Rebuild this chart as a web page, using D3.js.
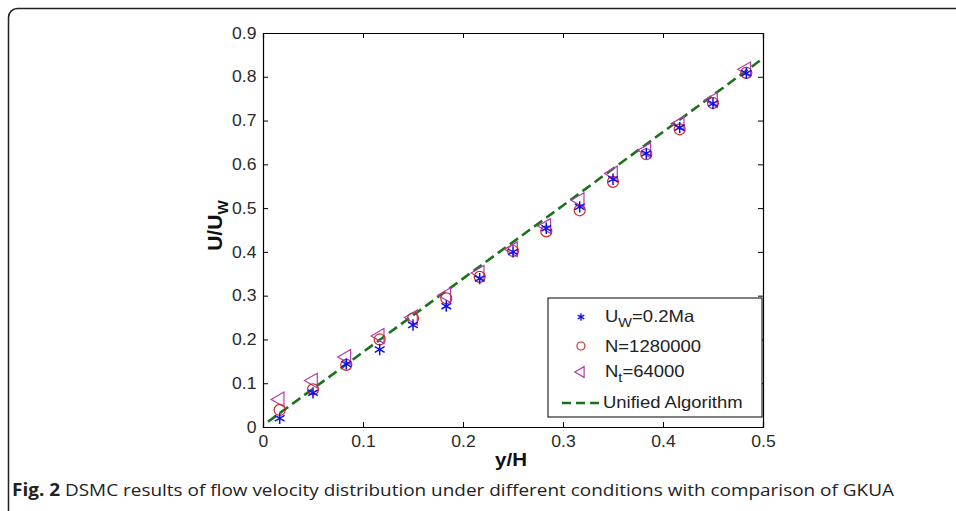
<!DOCTYPE html>
<html>
<head>
<meta charset="utf-8">
<script src="https://cdn.jsdelivr.net/npm/d3@7"></script>
<style>
  body { margin: 0; background: #fff; }
  svg { display: block; }
  .tick text { font-family: "Liberation Sans", Arial, sans-serif; font-size: 16px; fill: #2a2a2a; }
  .domain { stroke: #000; }
  .tick line { stroke: #000; }
</style>
</head>
<body>
<div id="wrap"></div>
<script>
// y/H positions of the sampled cells
var yH = [0.0167, 0.05, 0.0833, 0.1167, 0.15, 0.1833, 0.2167, 0.25, 0.2833, 0.3167, 0.35, 0.3833, 0.4167, 0.45, 0.4833];
// U/Uw for each case
var uwMa = [0.020, 0.078, 0.144, 0.177, 0.233, 0.276, 0.339, 0.400, 0.454, 0.503, 0.566, 0.625, 0.684, 0.739, 0.808];
var n1280000 = [0.039, 0.086, 0.142, 0.200, 0.248, 0.294, 0.343, 0.402, 0.447, 0.495, 0.560, 0.623, 0.680, 0.740, 0.809];
var nt64000 = [0.063, 0.106, 0.160, 0.208, 0.250, 0.301, 0.352, 0.406, 0.459, 0.518, 0.579, 0.632, 0.693, 0.747, 0.817];
// unified algorithm curve
var lineX = [0.005, 0.1, 0.2, 0.3, 0.4, 0.5];
var lineY = [0.012, 0.171, 0.339, 0.506, 0.674, 0.842];
var xTicks = [0, 0.1, 0.2, 0.3, 0.4, 0.5];
var yTicks = [0, 0.1, 0.2, 0.3, 0.4, 0.5, 0.6, 0.7, 0.8, 0.9];

var W = 956, H = 511;
var margin = {top: 33, right: 193, bottom: 84, left: 263},
    width = W - margin.left - margin.right,
    height = H - margin.top - margin.bottom;

var svg = d3.select('#wrap').append('svg')
    .attr('width', W)
    .attr('height', H);

// outer frame
svg.append('rect')
    .attr('x', 8.5).attr('y', 8.5)
    .attr('width', W + 20).attr('height', H + 20)
    .attr('rx', 9).attr('ry', 9)
    .attr('fill', 'none')
    .attr('stroke', '#222')
    .attr('stroke-width', 1.5);

var g = svg.append('g')
    .attr('transform', 'translate(' + margin.left + ',' + margin.top + ')');

var x = d3.scaleLinear().domain([0, 0.5]).range([0, width]);
var y = d3.scaleLinear().domain([0, 0.9]).range([height, 0]);

g.append('rect')
    .attr('width', width).attr('height', height)
    .attr('fill', '#fff');

// axes, ticks pointing inward on all sides
g.append('g')
    .attr('transform', 'translate(0,' + height + ')')
    .call(d3.axisBottom(x).tickValues(xTicks).tickSize(-5).tickPadding(9).tickFormat(d3.format('')));
g.append('g')
    .call(d3.axisTop(x).tickValues(xTicks).tickSize(-5).tickFormat(''));
g.append('g')
    .call(d3.axisLeft(y).tickValues(yTicks).tickSize(-5).tickPadding(6).tickFormat(d3.format('')));
g.append('g')
    .attr('transform', 'translate(' + width + ',0)')
    .call(d3.axisRight(y).tickValues(yTicks).tickSize(-5).tickFormat(''));
g.selectAll('.domain').attr('stroke-width', 1.2);
// the source image is a little wide, stretch the labels the same way
g.selectAll('.tick text').attr('transform', 'scale(1.1,1)');

// unified algorithm line
var line = d3.line()
    .x(function(d, i) { return x(lineX[i]); })
    .y(function(d) { return y(d); });
g.append('path')
    .datum(lineY)
    .attr('d', line)
    .attr('fill', 'none')
    .attr('stroke', '#1b721b')
    .attr('stroke-width', 2.6)
    .attr('stroke-dasharray', '10,5');

var star = d3.symbol().type(d3.symbolAsterisk).size(90);
var tri = d3.symbol().type(d3.symbolTriangle).size(95);

// Nt=64000 triangles (pointing left)
g.selectAll('.tri')
    .data(nt64000)
  .enter().append('path')
    .attr('class', 'tri')
    .attr('d', tri)
    .attr('transform', function(d, i) { return 'translate(' + x(yH[i]) + ',' + y(d) + ') rotate(-90)'; })
    .attr('fill', 'none')
    .attr('stroke', '#b03cb0')
    .attr('stroke-width', 1.2);

// N=1280000 circles
g.selectAll('.circ')
    .data(n1280000)
  .enter().append('circle')
    .attr('class', 'circ')
    .attr('cx', function(d, i) { return x(yH[i]); })
    .attr('cy', function(d) { return y(d); })
    .attr('r', 5.5)
    .attr('fill', 'none')
    .attr('stroke', '#cc2a2a')
    .attr('stroke-width', 1.2);

// Uw=0.2Ma stars
g.selectAll('.star')
    .data(uwMa)
  .enter().append('path')
    .attr('class', 'star')
    .attr('d', star)
    .attr('transform', function(d, i) { return 'translate(' + x(yH[i]) + ',' + y(d) + ')'; })
    .attr('fill', 'none')
    .attr('stroke', '#1010ee')
    .attr('stroke-width', 1.5);

// legend
var lg = g.append('g').attr('transform', 'translate(' + (width - 215) + ',' + (height - 129) + ')');
lg.append('rect')
    .attr('width', 214).attr('height', 119)
    .attr('fill', '#fff')
    .attr('stroke', '#000')
    .attr('stroke-width', 1);
var lfont = '"Liberation Sans", Arial, sans-serif';
lg.append('path').attr('d', d3.symbol().type(d3.symbolAsterisk).size(40))
    .attr('transform', 'translate(33,19)')
    .attr('fill', 'none').attr('stroke', '#1010ee').attr('stroke-width', 1.3);
lg.append('circle').attr('cx', 33).attr('cy', 48).attr('r', 4)
    .attr('fill', 'none').attr('stroke', '#cc2a2a').attr('stroke-width', 1.2);
lg.append('path').attr('d', d3.symbol().type(d3.symbolTriangle).size(50))
    .attr('transform', 'translate(33,74) rotate(-90)')
    .attr('fill', 'none').attr('stroke', '#b03cb0').attr('stroke-width', 1.2);
lg.append('line').attr('x1', 14).attr('x2', 55).attr('y1', 105).attr('y2', 105)
    .attr('stroke', '#1b721b').attr('stroke-width', 2.4).attr('stroke-dasharray', '9,5');

function ltext(xx, yy) {
  return lg.append('text')
    .attr('transform', 'translate(' + xx + ',' + yy + ') scale(1.12,1)')
    .attr('font-family', lfont).attr('font-size', 16.5).attr('fill', '#222');
}
var t1 = ltext(57, 24);
t1.append('tspan').text('U');
t1.append('tspan').attr('font-size', 13).attr('dy', 5).text('W');
t1.append('tspan').attr('dy', -5).text('=0.2Ma');
ltext(57, 54).text('N=1280000');
var t3 = ltext(57, 79);
t3.append('tspan').text('N');
t3.append('tspan').attr('font-size', 13).attr('dy', 5).text('t');
t3.append('tspan').attr('dy', -5).text('=64000');
ltext(55, 110).text('Unified Algorithm');

// axis labels
svg.append('text')
    .attr('transform', 'translate(' + (margin.left + x(0.25) - 2) + ',466) scale(1.08,1)')
    .attr('text-anchor', 'middle')
    .attr('font-family', lfont)
    .attr('font-size', 19)
    .attr('font-weight', 'bold')
    .attr('fill', '#111')
    .text('y/H');

var yl = svg.append('text')
    .attr('transform', 'translate(222,' + (margin.top + y(0.46)) + ') rotate(-90)')
    .attr('text-anchor', 'middle')
    .attr('font-family', lfont)
    .attr('font-size', 21)
    .attr('font-weight', 'bold')
    .attr('fill', '#111');
yl.append('tspan').text('U/U');
yl.append('tspan').attr('font-size', 15).attr('dy', 6).text('W');

// caption
var cap = svg.append('text')
    .attr('x', 12)
    .attr('y', 496)
    .attr('font-family', '"Open Sans", "Liberation Sans", sans-serif')
    .attr('font-size', 17)
    .attr('fill', '#222')
    .attr('textLength', 882)
    .attr('lengthAdjust', 'spacingAndGlyphs');
cap.append('tspan').attr('font-weight', 'bold').text('Fig. 2');
cap.append('tspan').text(' DSMC results of flow velocity distribution under different conditions with comparison of GKUA');
</script>
</body>
</html>
